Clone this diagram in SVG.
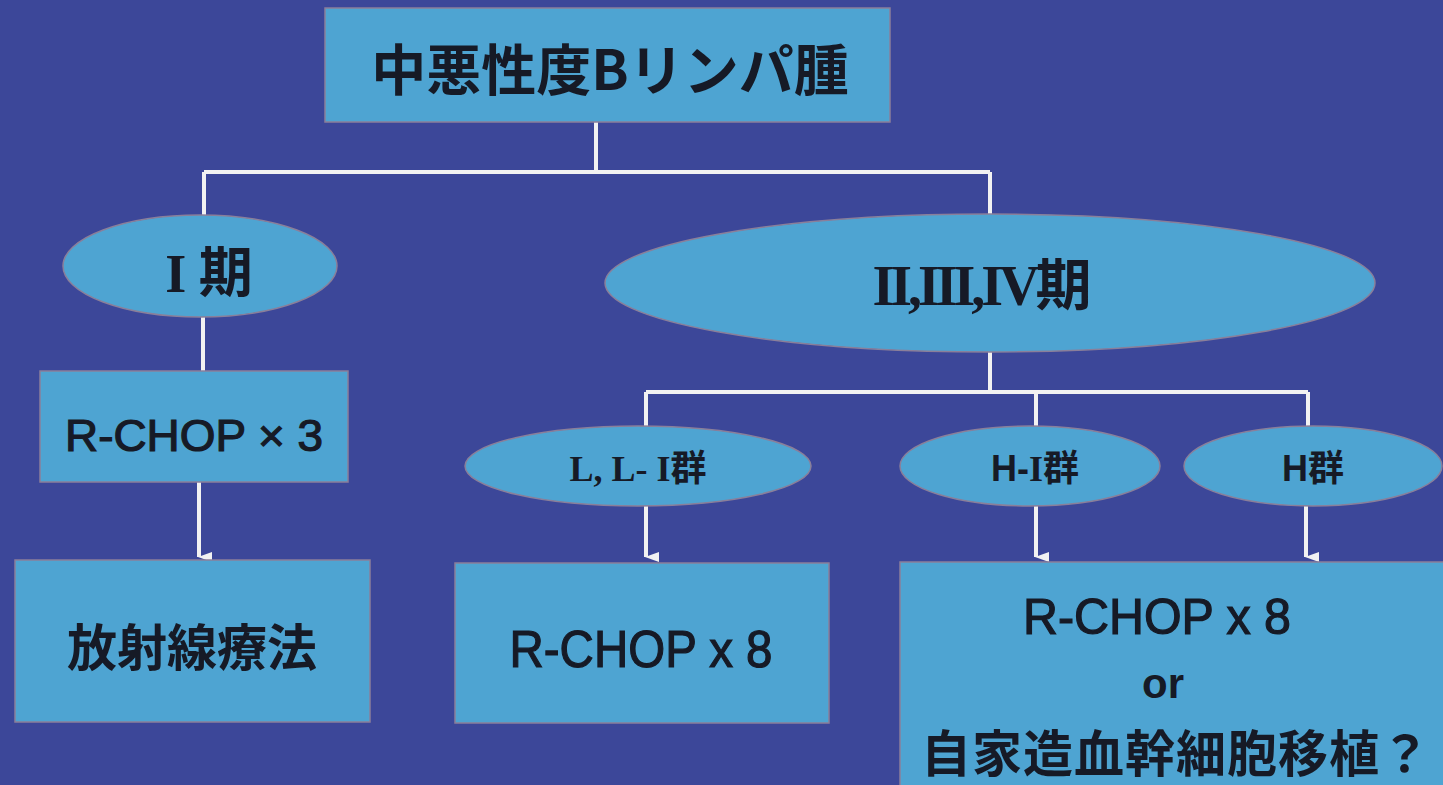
<svg xmlns="http://www.w3.org/2000/svg" width="1443" height="785" viewBox="0 0 1443 785">
<defs>
<style>
.bg{fill:#3c4799}
.box{fill:#4ea4d2;stroke:#8a7f9a;stroke-width:1.5}
.ln{stroke:#f2f2f2;stroke-width:4;fill:none}
.t{fill:#161a26;font-family:"Liberation Sans","Noto Sans CJK JP",sans-serif;font-weight:bold;text-anchor:middle}
.j{font-family:"Noto Sans CJK JP",sans-serif;font-weight:bold}
.s{font-family:"Liberation Serif","Noto Sans CJK JP",serif;font-weight:bold}
.l{font-weight:normal;stroke:#161a26;stroke-width:1.2}
</style>
<marker id="ah" markerWidth="10" markerHeight="14" refX="5" refY="13" orient="auto" markerUnits="userSpaceOnUse" viewBox="0 0 10 14">
<path d="M0,0 L10,0 L5,14 Z" fill="#f2f2f2"/>
</marker>
</defs>
<rect class="bg" x="0" y="0" width="1443" height="785"/>
<g id="connectors">
<path class="ln" d="M596,122 V172 M204,172 H990 M204,172 V216 M990,172 V214"/>
<path class="ln" d="M203,317 V371"/>
<path class="ln" d="M199,482 V557" marker-end="url(#ah)"/>
<path class="ln" d="M990,352 V392 M646,392 H1308 M646,392 V427 M1036,392 V427 M1308,392 V427"/>
<path class="ln" d="M646,506 V557" marker-end="url(#ah)"/>
<path class="ln" d="M1036,506 V557" marker-end="url(#ah)"/>
<path class="ln" d="M1306,506 V557" marker-end="url(#ah)"/>
</g>
<g id="n-top">
<rect class="box" x="325" y="8" width="565" height="114"/>
<text class="t j" x="610" y="90" font-size="55">中悪性度Bリンパ腫</text>
</g>
<g id="n-stage1">
<ellipse class="box" cx="200" cy="266" rx="137" ry="51"/>
<text class="t" x="209" y="292" font-size="54"><tspan class="s">I</tspan><tspan class="j"> 期</tspan></text>
</g>
<g id="n-stage234">
<ellipse class="box" cx="990" cy="283" rx="385" ry="69"/>
<text class="t" x="982" y="305" font-size="56"><tspan class="s" letter-spacing="-4">II,III,IV</tspan><tspan class="j">期</tspan></text>
</g>
<g id="n-rchop3">
<rect class="box" x="40" y="371" width="308" height="111"/>
<text class="t l" x="194" y="451" font-size="44" textLength="258" lengthAdjust="spacingAndGlyphs">R-CHOP × 3</text>
</g>
<g id="n-radio">
<rect class="box" x="15" y="560" width="355" height="162"/>
<text class="t j" x="192" y="666" font-size="50">放射線療法</text>
</g>
<g id="n-lli">
<ellipse class="box" cx="638" cy="466" rx="173" ry="40"/>
<text class="t" x="638" y="481" font-size="36"><tspan class="s" font-family="Liberation Sans">L, L- </tspan><tspan class="s">I</tspan><tspan class="j">群</tspan></text>
</g>
<g id="n-hi">
<ellipse class="box" cx="1030" cy="466" rx="130" ry="40"/>
<text class="t" x="1035" y="481" font-size="36"><tspan font-family="Liberation Sans">H-</tspan><tspan class="s">I</tspan><tspan class="j">群</tspan></text>
</g>
<g id="n-h">
<ellipse class="box" cx="1313" cy="466" rx="129" ry="40"/>
<text class="t" x="1313" y="481" font-size="36"><tspan font-family="Liberation Sans">H</tspan><tspan class="j">群</tspan></text>
</g>
<g id="n-rchop8">
<rect class="box" x="455" y="563" width="374" height="160"/>
<text class="t l" x="641" y="667" font-size="52" textLength="263" lengthAdjust="spacingAndGlyphs">R-CHOP x 8</text>
</g>
<g id="n-asct">
<rect class="box" x="900" y="562" width="560" height="240"/>
<text class="t l" x="1157" y="634" font-size="50" textLength="268" lengthAdjust="spacingAndGlyphs">R-CHOP x 8</text>
<text class="t" x="1163" y="698" font-size="42">or</text>
<text class="t j" x="1176" y="772" font-size="50" letter-spacing="1">自家造血幹細胞移植？</text>
</g>
</svg>
